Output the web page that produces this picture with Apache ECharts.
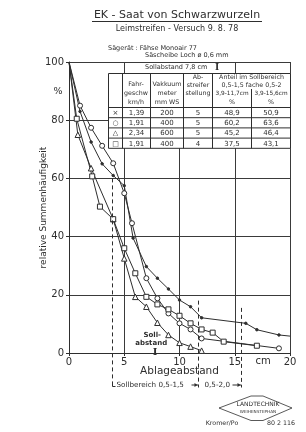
<!DOCTYPE html>
<html>
<head>
<meta charset="utf-8">
<script src="https://cdn.jsdelivr.net/npm/echarts@6/dist/echarts.min.js"></script>
<style>
html, body { margin: 0; padding: 0; background: #fff; }
#chart { width: 306px; height: 432px; }
</style>
</head>
<body>
<div id="chart"></div>
<script>
const FONT = '"DejaVu Sans"'
const INK = '#2e2e2e'

// Ablageabstand (cm) und relative Summenhäufigkeit (%) je Variante
const crossX = [0, 1, 2, 3, 4, 5, 5.8, 7, 8, 9, 10, 11, 12, 16, 17, 19, 20]
const crossY = [100, 83, 72.5, 65, 61, 57.5, 39.5, 29.7, 25.7, 22, 18.2, 15.9, 12.1, 10.2, 8, 6.2, 5.8]
const circleX = [0, 1, 2, 3, 4, 5, 5.7, 7, 8, 9, 10, 11, 12, 19]
const circleY = [100, 85, 77.4, 71.2, 65.2, 54.9, 44.6, 25.7, 18.8, 13.6, 10.2, 8.1, 5.0, 1.6]
const triangleX = [0, 0.8, 2, 4, 5, 6, 7, 8, 9, 10, 11, 12]
const triangleY = [100, 75, 63.5, 46, 32.5, 19.3, 15.9, 10.4, 6.2, 3.5, 2.2, 0.8]
const squareX = [0, 0.7, 2.1, 2.8, 4, 5, 6, 7, 8, 9, 10, 11, 12, 13, 14, 17]
const squareY = [100, 80.5, 60.7, 50.3, 46, 36, 27.4, 19.3, 16.7, 15, 12.8, 10.2, 8.1, 7, 3.9, 2.5]

// Tabelle
const rowMarks = ['×', '○', '△', '□']
const speeds = ['1,39', '1,91', '2,34', '1,91']
const vacuum = ['200', '400', '600', '400']
const stripper = ['5', '5', '5', '4']
const shareNarrow = ['48,9', '60,2', '45,2', '37,5']
const shareWide = ['50,9', '63,6', '46,4', '43,1']

// Sollbereich-Grenzen (cm) und wo die gestrichelten Linien beginnen (%)
const sollabstand = 7.8
const rangeBounds = [3.9, 11.7, 15.6]
const rangeTops = [60, 18, 15.5]

const xTicks = [0, 5, 10, 15, 20]
const yTicks = [0, 20, 40, 60, 80, 100]

const zip = (xs, ys) => xs.map((x, i) => [x, ys[i]])

const chart = echarts.init(document.getElementById('chart'))

// am Ursprung (0 cm) und am Rahmen (20 cm) kein Zeichen
const lineSerie = (name, xs, ys, symbol, size, fill) => ({
  name,
  type: 'line',
  data: zip(xs, ys).map(p => (p[0] === 0 || p[0] === 20) ? { value: p, symbol: 'none' } : p),
  symbol,
  symbolSize: size,
  showSymbol: true,
  animation: false,
  lineStyle: { color: INK, width: 1 },
  itemStyle: { color: fill, borderColor: INK, borderWidth: 1 },
  z: 3
})

chart.setOption({
  animation: false,
  backgroundColor: '#fff',
  textStyle: { fontFamily: FONT, color: INK },
  grid: { left: 69, right: 16, top: 62, bottom: 79 },
  xAxis: {
    type: 'value',
    min: xTicks[0],
    max: xTicks[xTicks.length - 1],
    interval: 5,
    name: 'Ablageabstand',
    nameLocation: 'middle',
    nameGap: 13,
    nameMoveOverlap: false,
    nameTextStyle: { fontSize: 10.5, color: INK, fontFamily: FONT },
    axisLine: { lineStyle: { color: INK, width: 1 } },
    axisTick: { show: true, length: 3, lineStyle: { color: INK } },
    axisLabel: { fontSize: 10, color: INK, margin: 4, fontFamily: FONT },
    splitLine: { show: true, lineStyle: { color: '#3a3a3a', width: 1 } }
  },
  yAxis: {
    type: 'value',
    min: yTicks[0],
    max: yTicks[yTicks.length - 1],
    interval: 20,
    name: 'relative Summenhäufigkeit',
    nameLocation: 'middle',
    nameRotate: 90,
    nameGap: 21,
    nameMoveOverlap: false,
    nameTextStyle: { fontSize: 9, color: INK, fontFamily: FONT },
    axisLine: { show: true, lineStyle: { color: INK, width: 1 } },
    axisTick: { show: true, length: 3, lineStyle: { color: INK } },
    axisLabel: { fontSize: 10, color: INK, margin: 5, fontFamily: FONT },
    splitLine: { show: true, lineStyle: { color: '#3a3a3a', width: 1 } }
  },
  series: [
    lineSerie('×', crossX, crossY, 'circle', 2.5, INK),
    lineSerie('○', circleX, circleY, 'circle', 5, '#fff'),
    lineSerie('△', triangleX, triangleY, 'triangle', 5.5, '#fff'),
    lineSerie('□', squareX, squareY, 'rect', 5, '#fff')
  ]
})

// Beschriftungen, Tabelle und Sollbereich über die Achsenskala
const px = (x, y) => chart.convertToPixel({ gridIndex: 0 }, [x, y])
const overlay = []
const T = (text, x, y, size, extra) => overlay.push({
  type: 'text', x, y, z: 60,
  style: Object.assign({
    text, fill: INK, font: `${size}px ${FONT}`, textAlign: 'center', textVerticalAlign: 'middle'
  }, extra || {})
})
const L = (x1, y1, x2, y2, extra) => overlay.push({
  type: 'line', z: 58,
  shape: { x1, y1, x2, y2 },
  style: Object.assign({ stroke: INK, lineWidth: 1 }, extra || {})
})

// Kopf
T('EK - Saat von Schwarzwurzeln', 177, 15, 11)
L(92, 21.5, 262, 21.5)
T('Leimstreifen - Versuch 9. 8. 78', 177, 29, 8)
T('Sägerät : Fähse Monoair 77', 108, 48, 6.5, { textAlign: 'left' })
T('Säscheibe Loch ø 0,6 mm', 145, 55.5, 6.5, { textAlign: 'left' })

// Sollabstand-Zeile über der Tabelle
overlay.push({ type: 'rect', z: 52, shape: { x: 127, y: 63, width: 107, height: 10 }, style: { fill: '#fff' } })
T('Sollabstand 7,8 cm', 145, 67.5, 6.5, { textAlign: 'left' })
T('I', 217, 67.5, 9, { font: `bold 9px "DejaVu Serif"` })

// Tabelle
const tx = [108.5, 122.5, 150.5, 183.5, 212.5, 251.5, 290.5]
const tableTop = 73.5
const headBottom = 107.5
const rowH = 10.2
overlay.push({ type: 'rect', z: 52, shape: { x: tx[0], y: tableTop, width: tx[6] - tx[0], height: headBottom + rowH * 4 - tableTop }, style: { fill: '#fff', stroke: INK, lineWidth: 1 } })
for (let i = 1; i < 5; i++) L(tx[i], tableTop, tx[i], headBottom + rowH * 4)
L(tx[5], 89, tx[5], headBottom + rowH * 4)
for (let r = 0; r < 4; r++) L(tx[0], headBottom + rowH * r, tx[6], headBottom + rowH * r)

const hs = 6.3
T('Fahr-', 136, 84, hs); T('geschw', 136, 93, hs); T('km/h', 136, 102.5, hs)
T('Vakkuum', 167, 84, hs); T('meter', 167, 93, hs); T('mm WS', 167, 102.5, hs)
T('Ab-', 198, 77, hs); T('streifer', 198, 85, hs); T('stellung', 198, 93, hs)
T('Anteil im Sollbereich', 251.5, 77, hs)
T('0,5-1,5 fache 0,5-2', 251.5, 85, hs)
T('3,9-11,7cm', 232, 93.5, 5.8); T('3,9-15,6cm', 271, 93.5, 5.8)
T('%', 232, 102, hs); T('%', 271, 102, hs)

const cx = [115.5, 136.5, 167, 198, 232, 271]
for (let r = 0; r < 4; r++) {
  const y = headBottom + rowH * r + rowH / 2 + 0.5
  T(rowMarks[r], cx[0], y, 7)
  T(speeds[r], cx[1], y, 7)
  T(vacuum[r], cx[2], y, 7)
  T(stripper[r], cx[3], y, 7)
  T(shareNarrow[r], cx[4], y, 7)
  T(shareWide[r], cx[5], y, 7)
}

// Achsenzusätze
T('%', 58, 92, 9.5)
T('cm', 263, 361.5, 10)

// Sollabstand-Marke auf der x-Achse
const soll = px(sollabstand, 0)
T('I', soll[0], soll[1] - 1, 10, { font: `bold 10px "DejaVu Serif"` })
T('Soll-', soll[0] - 3, soll[1] - 18, 7, { font: `bold 7px ${FONT}` })
T('abstand', soll[0] - 4, soll[1] - 10, 7, { font: `bold 7px ${FONT}` })

// Sollbereich, gestrichelt
const baseY = 386.5
const bx = rangeBounds.map((b, i) => px(b, rangeTops[i]))
bx.forEach(p => L(Math.round(p[0]) + 0.5, p[1], Math.round(p[0]) + 0.5, baseY + 1, { lineDash: [4, 3] }))
const x0 = Math.round(bx[0][0]) + 0.5
const x1 = Math.round(bx[1][0]) + 0.5
const x2 = Math.round(bx[2][0]) + 0.5
L(x0, baseY - 3, x0, baseY)
L(x0, baseY, x0 + 3, baseY)
T('Sollbereich 0,5-1,5', x0 + 4, baseY - 1.5, 7.2, { textAlign: 'left' })
L(x1 - 7, baseY - 1.5, x1, baseY - 1.5)
overlay.push({ type: 'polygon', z: 58, shape: { points: [[x1 - 1, baseY - 1.5], [x1 - 4, baseY - 3.5], [x1 - 4, baseY + 0.5]] }, style: { fill: INK } })
T('0,5-2,0', x1 + 6, baseY - 1.5, 7.2, { textAlign: 'left' })
L(x2 - 9, baseY - 1.5, x2, baseY - 1.5)
overlay.push({ type: 'polygon', z: 58, shape: { points: [[x2 - 1, baseY - 1.5], [x2 - 4, baseY - 3.5], [x2 - 4, baseY + 0.5]] }, style: { fill: INK } })

// Stempel
overlay.push({
  type: 'polygon', z: 58,
  shape: { points: [[219, 408], [251, 396], [263, 396], [292, 408], [263, 420.5], [251, 420.5]] },
  style: { fill: 'none', stroke: INK, lineWidth: 0.8 }
})
T('LANDTECHNIK', 258, 404, 6)
T('WEIHENSTEPHAN', 258, 411.5, 4.2)
T('Kromer/Po', 222, 423.5, 6.3)
T('80 2 116', 281, 423.5, 6.3)

chart.setOption({ graphic: { elements: overlay } })
</script>
</body>
</html>
